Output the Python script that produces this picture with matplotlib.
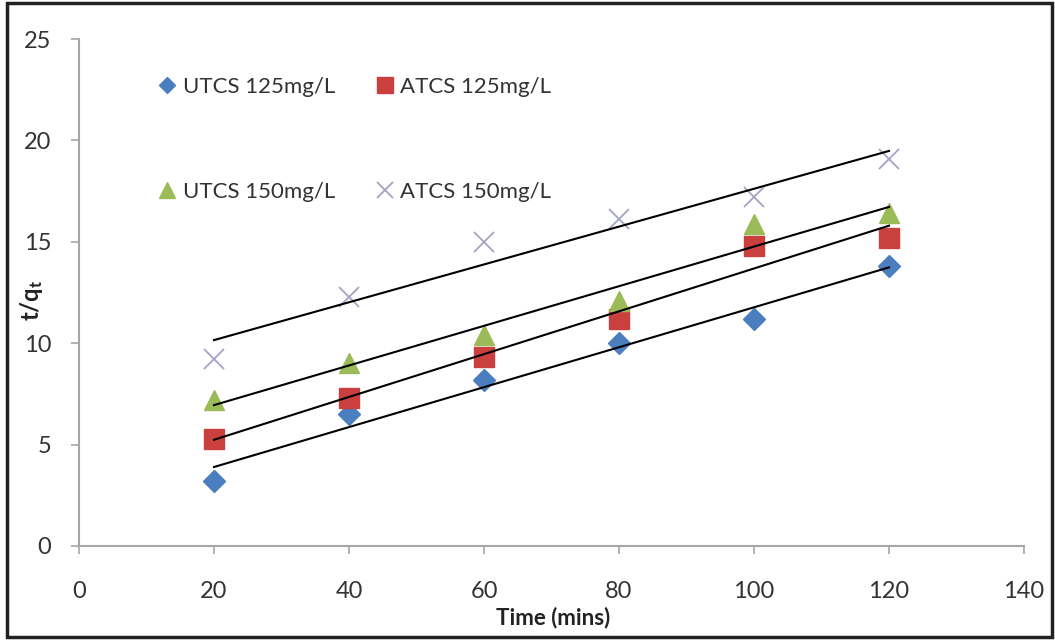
import numpy as np
import matplotlib
matplotlib.use("Agg")
import matplotlib.pyplot as plt
from matplotlib.patches import Rectangle

plt.rcParams["font.family"] = ["Lato", "DejaVu Sans"]
plt.rcParams["mathtext.fontset"] = "custom"
plt.rcParams["mathtext.bf"] = "Lato:bold"
plt.rcParams["mathtext.rm"] = "Lato"

# Data
time = [20, 40, 60, 80, 100, 120]
utcs125 = [3.2, 6.5, 8.2, 10.0, 11.2, 13.8]
atcs125 = [5.3, 7.3, 9.3, 11.2, 14.8, 15.2]
utcs150 = [7.2, 9.0, 10.4, 12.1, 15.9, 16.4]
atcs150 = [9.2, 12.3, 15.0, 16.1, 17.2, 19.1]

labels = ["UTCS 125mg/L", "ATCS 125mg/L", "UTCS 150mg/L", "ATCS 150mg/L"]
x_ticks = [0, 20, 40, 60, 80, 100, 120, 140]
y_ticks = [0, 5, 10, 15, 20, 25]

W, H = 1055, 642
fig = plt.figure(figsize=(W / 100, H / 100), dpi=100)
ax = fig.add_axes([79 / W, 1 - 546 / H, (1024 - 79) / W, (546 - 39) / H])

series = [
    (utcs125, dict(marker="D", color="#4A7EBF", ms=11, ls="none")),
    (atcs125, dict(marker="s", color="#C9403F", ms=15, ls="none")),
    (utcs150, dict(marker="^", color="#9BBB59", ms=15, ls="none")),
    (atcs150, dict(marker="x", color="#A3A3C4", ms=15, mew=1.3, ls="none")),
]

handles = []
for (vals, style), lab in zip(series, labels):
    (h,) = ax.plot(time, vals, label=lab, zorder=2, **style)
    handles.append(h)

# linear trendlines, drawn over the data range
t = np.array(time)
for vals, _ in series:
    k, b = np.polyfit(t, vals, 1)
    ax.plot(t[[0, -1]], k * t[[0, -1]] + b, color="black", lw=1.5, zorder=3)

ax.set_xlim(0, 140)
ax.set_ylim(0, 25)
ax.set_xticks(x_ticks)
ax.set_yticks(y_ticks)

for side in ["top", "right"]:
    ax.spines[side].set_visible(False)
for side in ["left", "bottom"]:
    ax.spines[side].set_color("#A6A6A6")
    ax.spines[side].set_linewidth(1.5)

ax.tick_params(axis="both", direction="out", length=6, width=1.2,
               color="#A6A6A6", labelsize=17, labelcolor="#333333")
ax.tick_params(axis="x", pad=19)
ax.tick_params(axis="y", pad=14)

ax.set_xlabel("Time (mins)", fontsize=16, fontweight="bold", color="#222222")
ax.xaxis.set_label_coords(0.5016, -0.142)
ax.xaxis.label.set_verticalalignment("center")

ax.set_ylabel(r"$\mathbf{t/q_t}$", fontsize=17, color="#222222")
ax.yaxis.set_label_coords(-0.05, 0.485)
ax.yaxis.label.set_verticalalignment("center")

# legend: two rows, columns filled top-down
order = [handles[0], handles[2], handles[1], handles[3]]
fig.legend(order, [h.get_label() for h in order], ncol=2, frameon=False,
           loc="upper left", bbox_to_anchor=(156 / W, 1 - 77 / H),
           fontsize=16, markerscale=0.75, handlelength=1.0, handletextpad=0.2,
           columnspacing=1.75, labelspacing=3.82, borderpad=0, borderaxespad=0,
           labelcolor="#333333")

# outer border of the picture
fig.patches.append(Rectangle((7 / W, 1 - 637 / H), (1052 - 7) / W, (637 - 3) / H,
                             transform=fig.transFigure, fill=False,
                             ec="#222222", lw=2.5))

fig.savefig("out.png", dpi=100)
